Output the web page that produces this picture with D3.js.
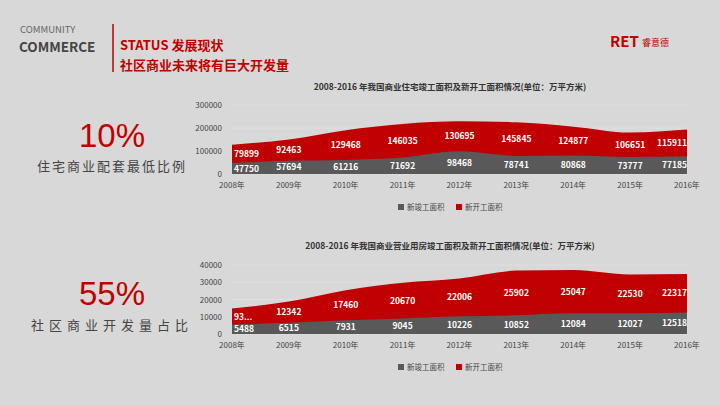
<!DOCTYPE html><html><head><meta charset="utf-8"><script src="https://cdn.jsdelivr.net/npm/d3@7"></script>
<style>body{margin:0;background:#d8d8d8;font-family:"Noto Sans CJK SC","Noto Sans",sans-serif}</style></head><body><svg id="s" width="720" height="405"></svg>
<script>
const years=["2008年","2009年","2010年","2011年","2012年","2013年","2014年","2015年","2016年"];
const res_done=[47750,57694,61216,71692,98468,78741,80868,73777,77185];
const res_new=[79899,92463,129468,146035,130695,145845,124877,106651,115911];
const com_done=[5488,6515,7931,9045,10226,10852,12084,12027,12518];
const com_new=[9300,12342,17460,20670,22006,25902,25047,22530,22317];
const com_new_labels=["93...","12342","17460","20670","22006","25902","25047","22530","22317"];
const res_ticks=[0,100000,200000,300000];
const com_ticks=[0,10000,20000,30000,40000];
const legend=["新竣工面积","新开工面积"];
const titles=["2008-2016 年我国商业住宅竣工面积及新开工面积情况(单位：万平方米)","2008-2016 年我国商业营业用房竣工面积及新开工面积情况(单位：万平方米)"];
const svg=d3.select("#s");
const red="#c00000",gray="#595959";
svg.append("text").attr("x",20).attr("y",33).attr("font-size",9.5).attr("fill","#666").text("COMMUNITY");
svg.append("text").attr("x",19).attr("y",52).attr("font-size",13.5).attr("font-weight","bold").attr("fill","#444").text("COMMERCE");
svg.append("line").attr("x1",113).attr("x2",113).attr("y1",24).attr("y2",72).attr("stroke",red).attr("stroke-width",1.5);
svg.append("text").attr("x",120).attr("y",50).attr("font-size",13).attr("font-weight","bold").attr("fill",red).text("STATUS 发展现状");
svg.append("text").attr("x",120).attr("y",70).attr("font-size",13).attr("font-weight","bold").attr("fill",red).text("社区商业未来将有巨大开发量");
svg.append("text").attr("x",610).attr("y",47).attr("font-size",15).attr("font-weight","bold").attr("fill",red).text("RET");
svg.append("text").attr("x",642).attr("y",46).attr("font-size",9).attr("fill",red).text("睿意德");
[[10,"10%","住宅商业配套最低比例",147,171,2],[55,"55%","社区商业开发量占比",305,330,5]].forEach(d=>{
 svg.append("text").attr("x",112).attr("y",d[3]).attr("text-anchor","middle").attr("font-size",33).attr("fill",red).attr("font-family","Liberation Sans").text(d[1]);
 svg.append("text").attr("x",112).attr("y",d[4]).attr("text-anchor","middle").attr("font-size",13).attr("letter-spacing",d[5]).attr("fill","#444").text(d[2]);
});
function chart(done,nw,labels,ticks,max,y0,y1,title,ty,ly){
 const x=d3.scalePoint().domain(years).range([232,687]);
 const y=d3.scaleLinear().domain([0,max]).range([y0,y1]);
 svg.append("text").attr("x",450).attr("y",ty).attr("text-anchor","middle").attr("font-size",8.5).attr("font-weight","bold").attr("fill","#333").text(title);
 ticks.forEach(t=>{svg.append("line").attr("x1",232).attr("x2",687).attr("y1",y(t)).attr("y2",y(t)).attr("stroke","#e4e4e4").attr("stroke-width",0.7);
  svg.append("text").attr("x",222).attr("y",y(t)+3).attr("text-anchor","end").attr("font-size",8).attr("fill","#444").text(t);});
 const c=d3.curveMonotoneX;
 svg.append("path").attr("d",d3.area().x((d,i)=>x(years[i])).y0(y(0)).y1((d,i)=>y(done[i]+nw[i])).curve(c)(done)).attr("fill",red);
 svg.append("path").attr("d",d3.area().x((d,i)=>x(years[i])).y0(y(0)).y1((d,i)=>y(done[i])).curve(c)(done)).attr("fill",gray);
 years.forEach((yr,i)=>{
  const anchor=i==0?"start":i==8?"end":"middle", dx=i==0?2:0;
  svg.append("text").attr("x",x(yr)+dx).attr("y",y(done[i]/2)+3).attr("text-anchor",anchor).attr("font-size",8.5).attr("font-weight","bold").attr("fill","#fff").text(done[i]);
  svg.append("text").attr("x",x(yr)+dx).attr("y",y(done[i]+nw[i]/2)+3).attr("text-anchor",anchor).attr("font-size",8.5).attr("font-weight","bold").attr("fill","#fff").text(labels[i]);
  svg.append("text").attr("x",x(yr)).attr("y",y0+14).attr("text-anchor","middle").attr("font-size",8).attr("fill","#444").text(yr);
 });
 [[gray,legend[0],398],[red,legend[1],456]].forEach(l=>{
  svg.append("rect").attr("x",l[2]).attr("y",ly-6).attr("width",6).attr("height",6).attr("fill",l[0]);
  svg.append("text").attr("x",l[2]+9).attr("y",ly).attr("font-size",7.5).attr("fill","#444").text(l[1]);});
}
chart(res_done,res_new,res_new.map(String),res_ticks,300000,174,105,titles[0],90,210);
chart(com_done,com_new,com_new_labels,com_ticks,40000,334,265,titles[1],249,370);
</script></body></html>
